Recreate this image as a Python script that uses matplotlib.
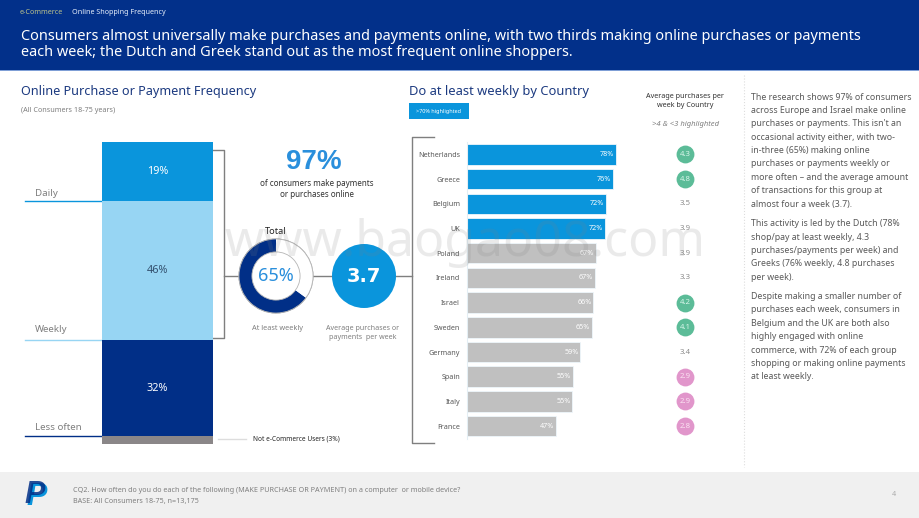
import matplotlib
matplotlib.use("Agg")
import matplotlib.pyplot as plt
from matplotlib.patches import Rectangle, Circle

plt.rcParams['font.family'] = ['Noto Sans', 'DejaVu Sans']

# stacked column
freq_labels = ["Not e-Commerce", "Less often", "Weekly", "Daily"]
freq_values = [2.5, 32, 46, 19.5]
freq_text = ["", "32%", "46%", "19%"]
freq_colors = ["#8a8688", "#012f87", "#97d5f3", "#0a95dc"]
freq_text_colors = ["white", "white", "#33506e", "white"]

# donut
donut_values = [65, 35]

# country bars
countries = ["Netherlands", "Greece", "Belgium", "UK", "Poland", "Ireland",
             "Israel", "Sweden", "Germany", "Spain", "Italy", "France"]
weekly = [78, 76.5, 72.6, 72.3, 67.4, 67.1, 66.2, 65.4, 59.4, 55.4, 55.2, 46.7]
weekly_labels = ["78%", "76%", "72%", "72%", "67%", "67%", "66%", "65%", "59%", "55%", "55%", "47%"]
avg_purchases = [4.3, 4.8, 3.5, 3.9, 3.9, 3.3, 4.2, 4.1, 3.4, 2.9, 2.9, 2.8]

body_lines = [
    "The research shows 97% of consumers", "across Europe and Israel make online",
    "purchases or payments. This isn't an", "occasional activity either, with two-",
    "in-three (65%) making online", "purchases or payments weekly or",
    "more often – and the average amount", "of transactions for this group at",
    "almost four a week (3.7).", None,
    "This activity is led by the Dutch (78%", "shop/pay at least weekly, 4.3",
    "purchases/payments per week) and", "Greeks (76% weekly, 4.8 purchases",
    "per week).", None,
    "Despite making a smaller number of", "purchases each week, consumers in",
    "Belgium and the UK are both also", "highly engaged with online",
    "commerce, with 72% of each group", "shopping or making online payments",
    "at least weekly.",
]

W, H = 920, 518
NAVY = "#012f87"
BLUE = "#0a95dc"
GREY = "#7f7f7f"
TITLE = "#1c3a80"
GREEN = "#5cbc98"
PINK = "#e196cb"


def px_axes(x0, y0, x1, y1):
    # axes placed with pixel corners, y measured from the top
    return fig.add_axes([x0 / W, 1 - y1 / H, (x1 - x0) / W, (y1 - y0) / H])


fig = plt.figure(figsize=(9.2, 5.18), dpi=100)

# background layer in pixels for furniture and text
bg = fig.add_axes([0, 0, 1, 1])
bg.set_xlim(0, W)
bg.set_ylim(H, 0)
bg.axis("off")

bg.add_patch(Rectangle((0, 0), W, 70, color="#02308a", lw=0))
bg.add_patch(Rectangle((0, 70), W, 1.2, color="#7f9fd6", lw=0))
bg.add_patch(Rectangle((0, 472), W, 46, color="#f0f0f0", lw=0))

bg.text(20, 13, "e-Commerce", fontsize=5.2, color="#b9c08a", va="center")
bg.text(72, 13, "Online Shopping Frequency", fontsize=5.2, color="#e6eefa", va="center")
bg.text(21, 36, "Consumers almost universally make purchases and payments online, with two thirds making online purchases or payments",
        fontsize=10.45, color="white", va="center")
bg.text(21, 53, "each week; the Dutch and Greek stand out as the most frequent online shoppers.",
        fontsize=10.45, color="white", va="center")

bg.text(21, 91, "Online Purchase or Payment Frequency", fontsize=9.1, color=TITLE, va="center")
bg.text(21, 110, "(All Consumers 18-75 years)", fontsize=5.2, color=GREY, va="center")
bg.text(409, 91, "Do at least weekly by Country", fontsize=9.3, color=TITLE, va="center")

bg.add_patch(Rectangle((409, 103), 60, 16, color=BLUE, lw=0))
bg.text(439, 111, ">70% highlighted", fontsize=3.9, color="white", ha="center", va="center")
bg.text(685, 101, "Average purchases per\nweek by Country", fontsize=5.2, color="#333333",
        ha="center", va="center", linespacing=1.25)
bg.text(686, 125, ">4 & <3 highlighted", fontsize=5.5, color=GREY, style="italic", ha="center", va="center")

# side labels and their leader lines
bg.plot([25, 102], [200.5, 200.5], color=BLUE, lw=1)
bg.plot([25, 102], [339.5, 339.5], color="#97d5f3", lw=1)
bg.plot([25, 102], [436, 436], color=NAVY, lw=1)
bg.text(35, 193, "Daily", fontsize=7, color=GREY, va="center")
bg.text(35, 330, "Weekly", fontsize=7, color=GREY, va="center")
bg.text(35, 428, "Less often", fontsize=7, color=GREY, va="center")
bg.plot([218, 246], [439, 439], color="#dddddd", lw=1)
bg.text(253, 439, "Not e-Commerce Users (3%)", fontsize=4.7, color="#222222", va="center")

# brackets and connector
bg.plot([213, 224, 224, 213], [149.5, 149.5, 338, 338], color=GREY, lw=1)
bg.plot([224, 412], [276, 276], color=GREY, lw=1)
bg.plot([434, 412, 412, 434], [137, 137, 443, 443], color=GREY, lw=1)

# middle callouts
bg.text(314, 162, "97%", fontsize=20, color="#2a8fdc", weight="bold", family="Liberation Sans",
        ha="center", va="center")
bg.text(317, 189, "of consumers make payments\nor purchases online", fontsize=5.8, color="#333333",
        ha="center", va="center", linespacing=1.4)
bg.text(276, 231, "Total", fontsize=6.6, color="#222222", ha="center", va="center")
bg.text(278, 328, "At least weekly", fontsize=5.3, color=GREY, ha="center", va="center")
bg.text(363, 333, "Average purchases or\npayments  per week", fontsize=5.1, color=GREY,
        ha="center", va="center", linespacing=1.3)
bg.add_patch(Circle((364, 276), 32, color=BLUE, lw=0, zorder=3))
bg.text(364, 276, "3.7", fontsize=14, color="white", weight="bold", family="DejaVu Sans",
        ha="center", va="center", zorder=4)

# comment column
bg.plot([744, 744], [75, 467], color="#dddddd", lw=0.8, ls=":")
y = 97
for line in body_lines:
    if line is None:
        y += 6
        continue
    bg.text(751, y, line, fontsize=6.3, color="#595959", va="center")
    y += 13.4

# footer
bg.text(37, 497, "P", fontsize=22, color=BLUE, weight="bold", style="italic", family="Liberation Sans",
        ha="center", va="center")
bg.text(35, 495, "P", fontsize=22, color=NAVY, weight="bold", style="italic", family="Liberation Sans",
        ha="center", va="center", alpha=0.85)
bg.text(73, 490, "CQ2. How often do you do each of the following (MAKE PURCHASE OR PAYMENT) on a computer  or mobile device?",
        fontsize=5.2, color=GREY, va="center")
bg.text(73, 501, "BASE: All Consumers 18-75, n=13,175", fontsize=5.2, color=GREY, va="center")
bg.text(894, 495, "4", fontsize=5.2, color="#aaaaaa", ha="center", va="center")

# stacked column
ax1 = px_axes(102, 142, 213, 444)
ax1.patch.set_alpha(0)
bottom = 0
for value, name, text, col, tcol in zip(freq_values, freq_labels, freq_text, freq_colors, freq_text_colors):
    ax1.bar(0, value, width=1, bottom=bottom, color=col, label=name)
    if text:
        ax1.text(0, bottom + value / 2, text, fontsize=7.8, color=tcol, ha="center", va="center")
    bottom += value
ax1.set_xlim(-0.5, 0.5)
ax1.set_ylim(0, sum(freq_values))
ax1.axis("off")

# donut
ax2 = px_axes(236, 236, 316, 316)
ax2.patch.set_alpha(0)
ax2.add_patch(Circle((0, 0), 1.0, facecolor="white", edgecolor="#aaaaaa", lw=0.7))
ax2.pie(donut_values, colors=[NAVY, "white"], startangle=90, counterclock=True, radius=1.0,
        wedgeprops=dict(width=0.35, linewidth=0))
ax2.add_patch(Circle((0, 0), 1.0, fill=False, edgecolor="#b5b5b5", lw=0.6))
ax2.add_patch(Circle((0, 0), 0.65, fill=False, edgecolor="#b5b5b5", lw=0.6))
ax2.text(0, 0, "65%", fontsize=13, color="#2a8fdc", ha="center", va="center")
ax2.set_xlim(-1.08, 1.08)
ax2.set_ylim(-1.08, 1.08)

# country bars
ax3 = px_axes(467, 142, 623, 438.5)
ax3.patch.set_alpha(0)
rows = list(range(len(countries)))
colors3 = [BLUE if v >= 70 else "#c0c0c0" for v in weekly]
ax3.barh(rows, weekly, height=0.83, color=colors3, edgecolor="#eef6fb", linewidth=0.6)
for r, v, lab in zip(rows, weekly, weekly_labels):
    ax3.text(v - 1, r, lab, fontsize=5.2, color="white", ha="right", va="center")
ax3.set_xlim(0, 156 / 1.91)
ax3.set_ylim(len(countries) - 0.5, -0.5)
ax3.set_yticks(rows)
ax3.set_yticklabels(countries, fontsize=5.2, color="#595959")
ax3.tick_params(axis="y", length=0, pad=5)
ax3.set_xticks([])
for s in ["top", "right", "bottom"]:
    ax3.spines[s].set_visible(False)
ax3.spines["left"].set_color("#e4eef4")

# average purchases per week
ax4 = px_axes(665, 142, 705, 438.5)
ax4.patch.set_alpha(0)
for r, v in zip(rows, avg_purchases):
    if v > 4:
        ax4.scatter(0, r, s=165, color=GREEN, linewidths=0)
    elif v < 3:
        ax4.scatter(0, r, s=165, color=PINK, linewidths=0)
    txt_col = "#d9f5ea" if v > 4 else ("#fbe3f2" if v < 3 else "#8c8c8c")
    ax4.text(0, r, "%.1f" % v, fontsize=5.6, color=txt_col, ha="center", va="center")
ax4.set_xlim(-1, 1)
ax4.set_ylim(len(countries) - 0.5, -0.5)
ax4.axis("off")

# site watermark over everything
wm = fig.add_axes([0, 0, 1, 1])
wm.set_xlim(0, W)
wm.set_ylim(H, 0)
wm.axis("off")
wm.patch.set_alpha(0)
wm.text(465, 243, "www.baogao08.com", fontsize=36, color="#808080", alpha=0.16, ha="center", va="center")

fig.savefig("out.png", dpi=100)
